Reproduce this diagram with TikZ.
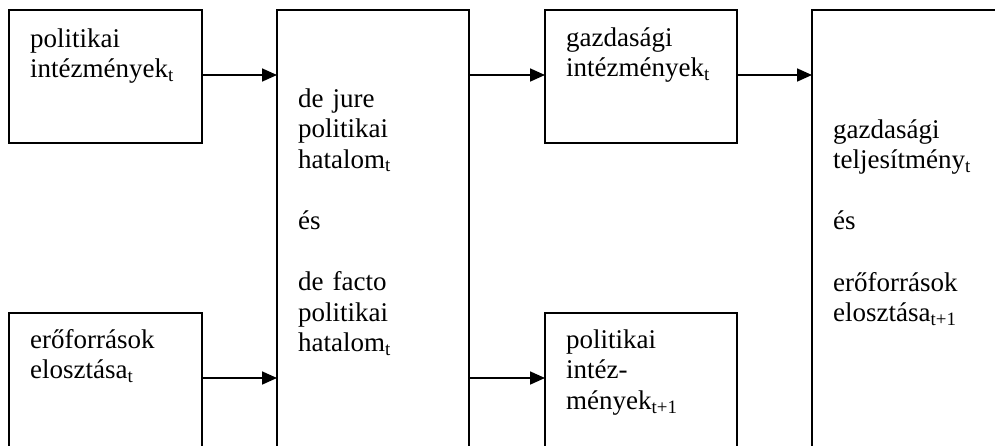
\documentclass[tikz,border=0pt]{standalone}
\usepackage{fontspec}
\setmainfont{Liberation Serif}
\usetikzlibrary{arrows.meta,calc}
\begin{document}
\begin{tikzpicture}[x=1pt,y=-1pt,
  box/.style={draw, line width=1.8pt, rectangle, inner sep=0pt, outer sep=0pt, anchor=north west},
  txt/.style={inner sep=0pt, anchor=base west, align=left, text width=200pt,
    font=\fontsize{27}{30.6}\selectfont},
  arr/.style={line width=1.7pt, -{Triangle[length=15pt,width=13pt]}}]
\useasboundingbox (0,0) rectangle (995,445);
\clip (0,0) rectangle (995,445);
% boxes
\node[box, minimum width=193pt, minimum height=133pt] (b1) at (9,10) {};
\node[box, minimum width=192pt, minimum height=470pt] (b2) at (277,10) {};
\node[box, minimum width=192pt, minimum height=133pt] (b3) at (545,10) {};
\node[box, minimum width=220pt, minimum height=470pt] (b4) at (812,10) {};
\node[box, minimum width=193pt, minimum height=170pt] (b5) at (9,313) {};
\node[box, minimum width=192pt, minimum height=170pt] (b6) at (545,313) {};
% texts
\node[txt] (t1) at ($(b1.north west)+(21,37)$) {politikai\\intézmények\textsubscript{t}};
\node[txt] (t2) at ($(b2.north west)+(21,97)$) {de jure\\politikai\\hatalom\textsubscript{t}\\[30.6pt]és\\[30.6pt]de facto\\politikai\\hatalom\textsubscript{t}};
\node[txt] (t3) at ($(b3.north west)+(21,36)$) {gazdasági\\intézmények\textsubscript{t}};
\node[txt] (t4) at ($(b4.north west)+(21,128)$) {gazdasági\\teljesítmény\textsubscript{t}\\[30.6pt]és\\[30.6pt]erőforrások\\elosztása\textsubscript{t+1}};
\node[txt] (t5) at ($(b5.north west)+(21,35)$) {erőforrások\\elosztása\textsubscript{t}};
\node[txt] (t6) at ($(b6.north west)+(21,35)$) {politikai\\intéz-\\mények\textsubscript{t+1}};
% arrows
\coordinate (a1) at ($(b1.north east)+(0,65)$);
\coordinate (a5) at ($(b5.north east)+(0,65)$);
\coordinate (a2) at ($(b2.north east)+(0,65)$);
\coordinate (a6) at ($(b6.north west)+(0,65)$);
\coordinate (a3) at ($(b3.north east)+(0,65)$);
\draw[arr] (a1) -- (a1 -| b2.west);
\draw[arr] (a5) -- (a5 -| b2.west);
\draw[arr] (a2) -- (a2 -| b3.west);
\draw[arr] (a6 -| b2.east) -- (a6);
\draw[arr] (a3) -- (a3 -| b4.west);
\end{tikzpicture}
\end{document}
